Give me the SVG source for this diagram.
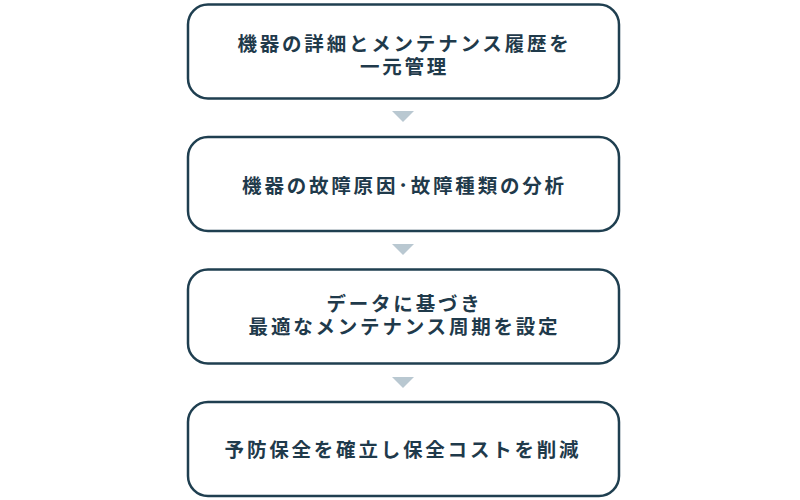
<svg xmlns="http://www.w3.org/2000/svg" width="800" height="500" viewBox="0 0 800 500">
<style>
.box{fill:#ffffff;stroke:#1f3f50;stroke-width:2.5}
.t{font-family:"Noto Sans CJK JP","Noto Sans",sans-serif;font-size:19.5px;font-weight:bold;fill:#1f3a4b;letter-spacing:2.8px;text-anchor:middle}
.arr{fill:#b9c8d1}
</style>
<rect width="800" height="500" fill="#ffffff"/>
<g id="connectors">
<polygon class="arr" points="392,111 414,111 403,122"/>
<polygon class="arr" points="392,244 414,244 403,255"/>
<polygon class="arr" points="392,377 414,377 403,388"/>
</g>
<g id="node1">
<rect class="box" x="188" y="4.5" width="431" height="94" rx="20"/>
<text class="t" x="404.5" y="50.5">機器の詳細とメンテナンス履歴を</text>
<text class="t" x="404.5" y="73.5">一元管理</text>
</g>
<g id="node2">
<rect class="box" x="188" y="137" width="431" height="94" rx="20"/>
<text class="t" x="404.5" y="192.5">機器の故障原因･故障種類の分析</text>
</g>
<g id="node3">
<rect class="box" x="188" y="269.5" width="431" height="94" rx="20"/>
<text class="t" x="404.5" y="311">データに基づき</text>
<text class="t" x="404.5" y="334">最適なメンテナンス周期を設定</text>
</g>
<g id="node4">
<rect class="box" x="188" y="402" width="431" height="94" rx="20"/>
<text class="t" x="403" y="456.5">予防保全を確立し保全コストを削減</text>
</g>
</svg>
